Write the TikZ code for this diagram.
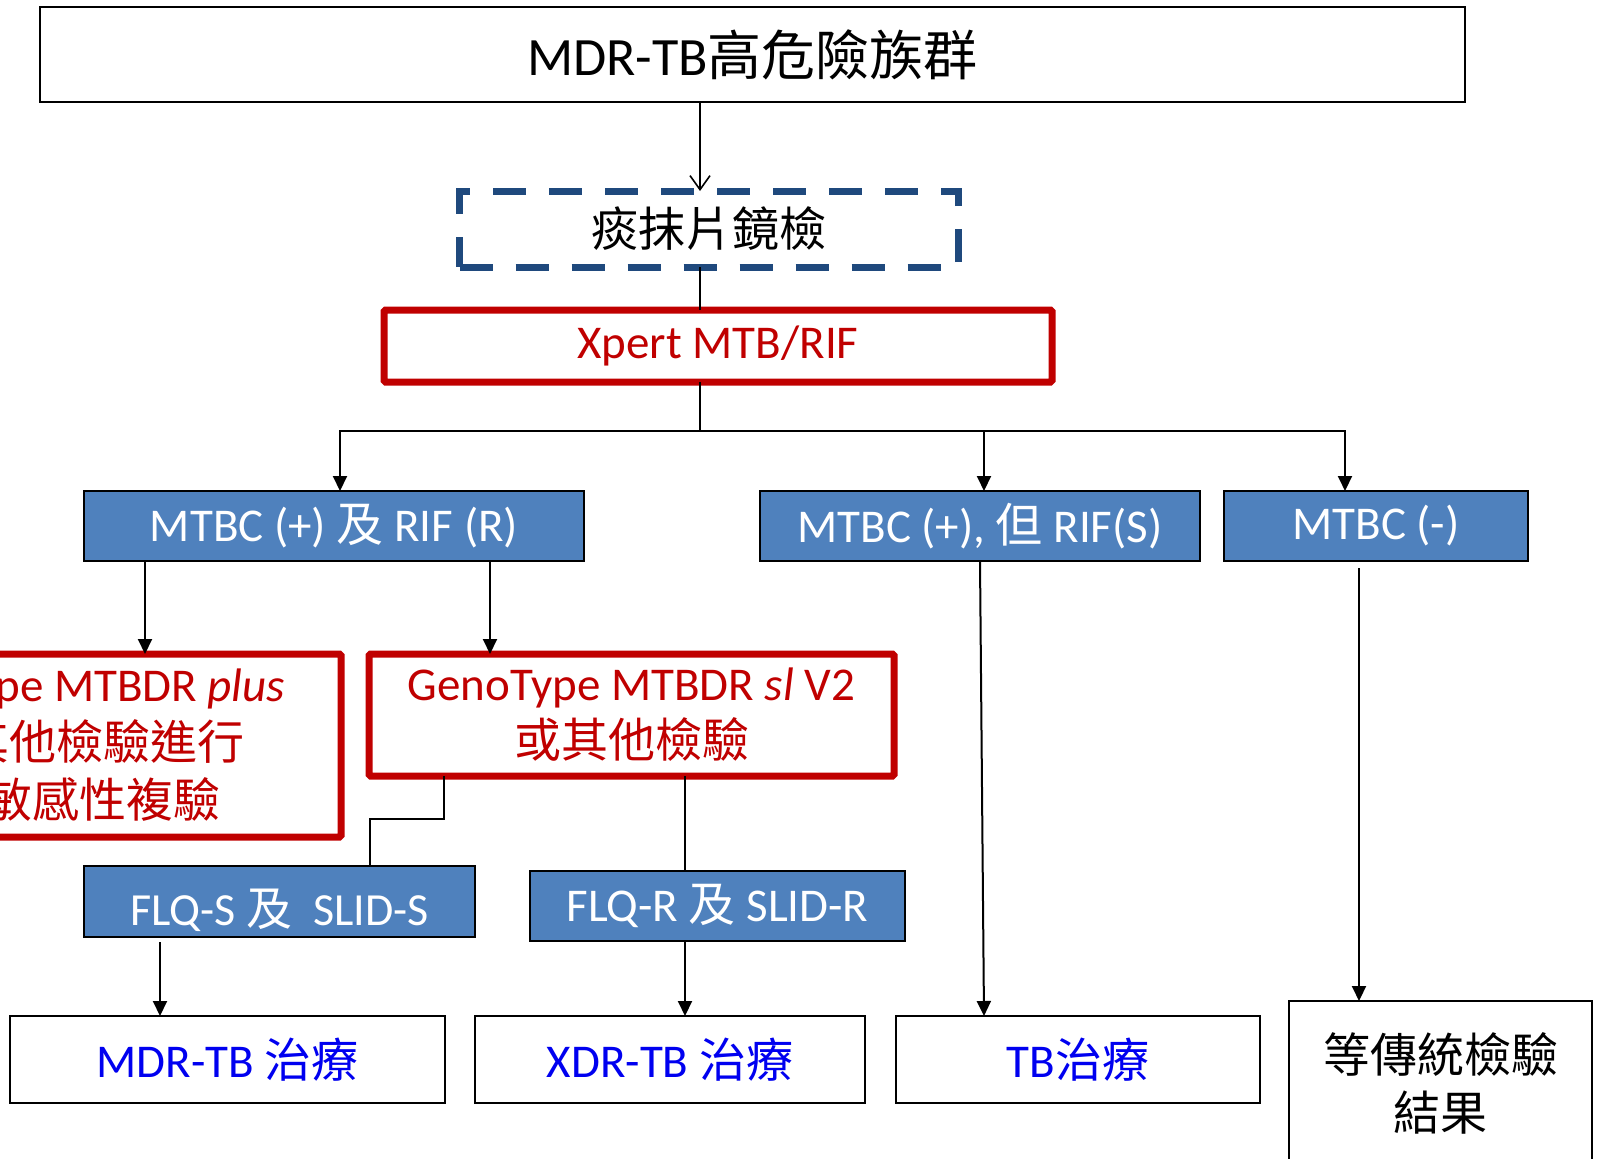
\documentclass[tikz,border=0pt]{standalone}
\usepackage{fontspec}
\setmainfont{Carlito}
\newfontfamily\zh{Noto Sans CJK TC}
\usetikzlibrary{arrows.meta,positioning}
\definecolor{tbred}{RGB}{192,0,0}
\definecolor{tbblue}{RGB}{79,129,189}
\definecolor{tbnavy}{RGB}{31,73,125}
\definecolor{txblue}{RGB}{0,0,240}

\begin{document}
\begin{tikzpicture}[
  x=1pt, y=-1pt,
  every node/.style={font=\fontsize{47}{56}\selectfont, inner sep=0pt,
                     outer sep=0pt, align=center},
  plainbox/.style={draw, line width=2pt, fill=white},
  redbox/.style={draw=tbred, line width=7pt, text=tbred, rounded corners=1.5pt},
  dashbox/.style={draw=tbnavy, line width=7pt, dash pattern=on 33pt off 23pt},
  bluebox/.style={draw=black, line width=2pt, fill=tbblue, text=white},
  link/.style={-{Triangle[length=15pt,width=14pt]}, line width=2pt},
  plainlink/.style={line width=2pt},
  openlink/.style={-{Straight Barb[length=14pt,width=20pt]}, line width=1.6pt},
]
  \useasboundingbox (0,0) rectangle (1598,1159);
  \clip (0,0) rectangle (1598,1159);

  % Top of the chart
  \node[plainbox, minimum width=1425pt, minimum height=95pt,
        font=\fontsize{54}{60}\selectfont]
    (risk) at (752.5,54.5) {MDR-TB{\zh 高危險族群}};
  \node[dashbox, minimum width=499pt, minimum height=76pt, font=\zh\fontsize{47}{56}\selectfont]
    (smear) at (709,229) {痰抹片鏡檢};
  \node[redbox, minimum width=668pt, minimum height=72pt]
    (xpert) at (718,346) {Xpert MTB/RIF};

  % Xpert results
  \node[bluebox, minimum width=500pt, minimum height=70pt]
    (rifr) at (334,526) {MTBC (+) {\zh 及} RIF (R)};
  \node[bluebox, minimum width=440pt, minimum height=70pt]
    (rifs) at (980,526) {MTBC (+), {\zh 但} RIF(S)};
  \node[bluebox, minimum width=304pt, minimum height=70pt]
    (neg) at (1376,526) {MTBC (-)};

  % Line probe assays
  \node[redbox, minimum width=522pt, minimum height=183pt, font=\fontsize{47}{58}\selectfont]
    (plus) at (80,745.5) {GenoType MTBDR \textit{plus}\hspace*{24pt}\\{\zh 或其他檢驗進行}\\{\zh 藥敏感性複驗}};
  \node[redbox, minimum width=525pt, minimum height=122pt, font=\fontsize{47}{57}\selectfont]
    (sl) at (631.5,715) {GenoType MTBDR \textit{sl} V2\\{\zh 或其他檢驗}};

  % Second-line results
  \node[bluebox, minimum width=391pt, minimum height=71pt, text height=55pt, text depth=8pt,
        font=\fontsize{46}{52}\selectfont]
    (flqs) at (279.5,901.5) {FLQ-S {\zh 及}\ \ SLID-S};
  \node[bluebox, minimum width=375pt, minimum height=70pt, font=\fontsize{47}{52}\selectfont]
    (flqr) at (717.5,906) {FLQ-R {\zh 及} SLID-R};

  % Treatment
  \node[plainbox, minimum width=435pt, minimum height=87pt, text=txblue]
    (mdr) at (227.5,1059.5) {MDR-TB {\zh 治療}};
  \node[plainbox, minimum width=390pt, minimum height=87pt, text=txblue]
    (xdr) at (670,1059.5) {XDR-TB {\zh 治療}};
  \node[plainbox, minimum width=364pt, minimum height=87pt, text=txblue]
    (tbt) at (1078,1059.5) {TB{\zh 治療}};
  \node[plainbox, minimum width=303pt, minimum height=164pt,
        font=\zh\fontsize{47}{58}\selectfont]
    (trad) at (1440.5,1083) {等傳統檢驗\\結果};

  % Connectors
  \coordinate (trunk) at (700,0);
  \coordinate (split) at (700,431);
  \draw[openlink] (risk.south -| trunk) -- (smear.north -| trunk);
  \draw[plainlink] (smear.south -| trunk) -- (xpert.north -| trunk);
  \draw[plainlink] (xpert.south -| trunk) -- (split);
  \draw[link] (split) -| ([xshift=6pt]rifr.north);
  \draw[link] (split) -| ([xshift=4pt]rifs.north);
  \draw[link] (split) -| ([xshift=-31pt]neg.north);

  \coordinate (pa) at ([xshift=-189pt]rifr.south);
  \coordinate (pb) at ([xshift=156pt]rifr.south);
  \draw[link] (pa) -- (pa |- plus.north);
  \draw[link] (pb) -- (pb |- sl.north);

  \coordinate (pc) at (444,819);
  \coordinate (pd) at (370,0);
  \coordinate (pe) at (685,0);
  \draw[plainlink] (sl.south -| pc) -- (pc) -| (pd |- flqs.north);
  \draw[plainlink] (sl.south -| pe) -- (flqr.north -| pe);

  \coordinate (pf) at (160,942);
  \coordinate (pg) at (1359,568);
  \draw[link] (pf) -- (pf |- mdr.north);
  \draw[link] (flqr.south -| pe) -- (xdr.north -| pe);
  \draw[link] (rifs.south) -- ([xshift=-94pt]tbt.north);
  \draw[link] (pg) -- (pg |- trad.north);
\end{tikzpicture}
\end{document}
